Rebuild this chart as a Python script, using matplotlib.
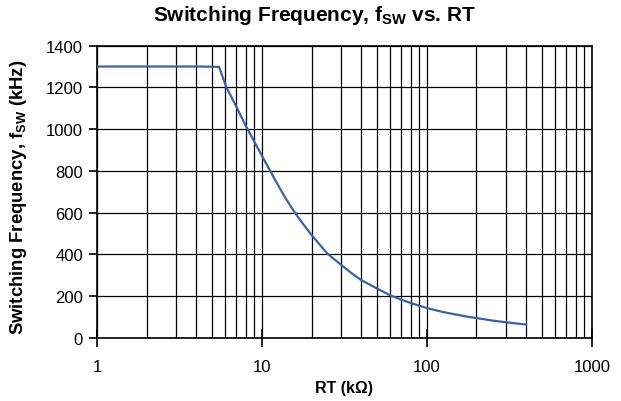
#!/usr/bin/python

from matplotlib import pyplot as plt
from matplotlib.ticker import FixedLocator, NullFormatter
import numpy as np

# RT (kOhm) vs switching frequency (kHz)
rt_kohm = [1, 2, 3, 4, 5, 5.5, 6.1, 7, 8, 9, 10, 12, 14, 16, 18, 20, 25, 30,
           35, 40, 50, 60, 70, 80, 90, 100, 125, 150, 175, 200, 250, 300,
           350, 400]
fsw_khz = [1300, 1300, 1300, 1300, 1299, 1298, 1200, 1108, 1015, 940, 873,
           758, 666, 595, 540, 493, 403, 352, 310, 277, 236, 204, 183, 167,
           154, 143, 124, 112, 102, 95, 83, 75, 69, 64]

x_ticks = [1, 10, 100, 1000]
x_labels = ['1', '10', '100', '1000']
y_ticks = [0, 200, 400, 600, 800, 1000, 1200, 1400]


def main():
  plt.rcParams['font.family'] = ['Liberation Sans', 'DejaVu Sans']
  plt.rcParams['mathtext.fontset'] = 'custom'
  plt.rcParams['mathtext.rm'] = 'Liberation Sans'
  plt.rcParams['mathtext.bf'] = 'Liberation Sans:bold'

  fig = plt.figure(figsize=(6.21, 4.02), dpi=100)
  ax = fig.add_axes([0.156, 0.157, 0.797, 0.727])

  ax.plot(rt_kohm, fsw_khz, color='#3d64a0', lw=1.6, zorder=3)

  ax.set_xscale('log')
  ax.set_xlim(1, 1000)
  ax.set_ylim(0, 1400)

  minors = [m * d for d in [1, 10, 100] for m in range(2, 10)]
  ax.xaxis.set_major_locator(FixedLocator(x_ticks))
  ax.xaxis.set_minor_locator(FixedLocator(minors))
  ax.xaxis.set_minor_formatter(NullFormatter())
  ax.set_xticks(x_ticks, x_labels)
  ax.set_yticks(y_ticks)

  ax.grid(True, which='both', axis='x', color='black', lw=0.9)
  ax.grid(True, which='major', axis='y', color='black', lw=0.9)
  ax.tick_params(axis='x', which='major', direction='inout', length=13,
                 width=1.2, labelsize=12, pad=9)
  ax.tick_params(axis='x', which='minor', length=0)
  ax.tick_params(axis='y', direction='out', length=6, width=1.2,
                 labelsize=12, pad=4)
  for s in ax.spines.values():
    s.set_linewidth(1.2)

  # title sits centred on the figure, not on the axes
  fig.suptitle(r'Switching Frequency, f$_\mathbf{SW}$ vs. RT',
               x=0.506, y=0.99, fontsize=15, fontweight='bold')
  ax.set_xlabel('RT (kΩ)', fontsize=11.5, fontweight='bold', labelpad=4)
  ax.set_ylabel(r'Switching Frequency, f$_\mathbf{SW}$ (kHz)',
                fontsize=13.3, fontweight='bold')
  ax.yaxis.set_label_coords(-0.138, 0.485)

  fig.savefig('out.png', dpi=100)


if __name__ == '__main__':
  main()
